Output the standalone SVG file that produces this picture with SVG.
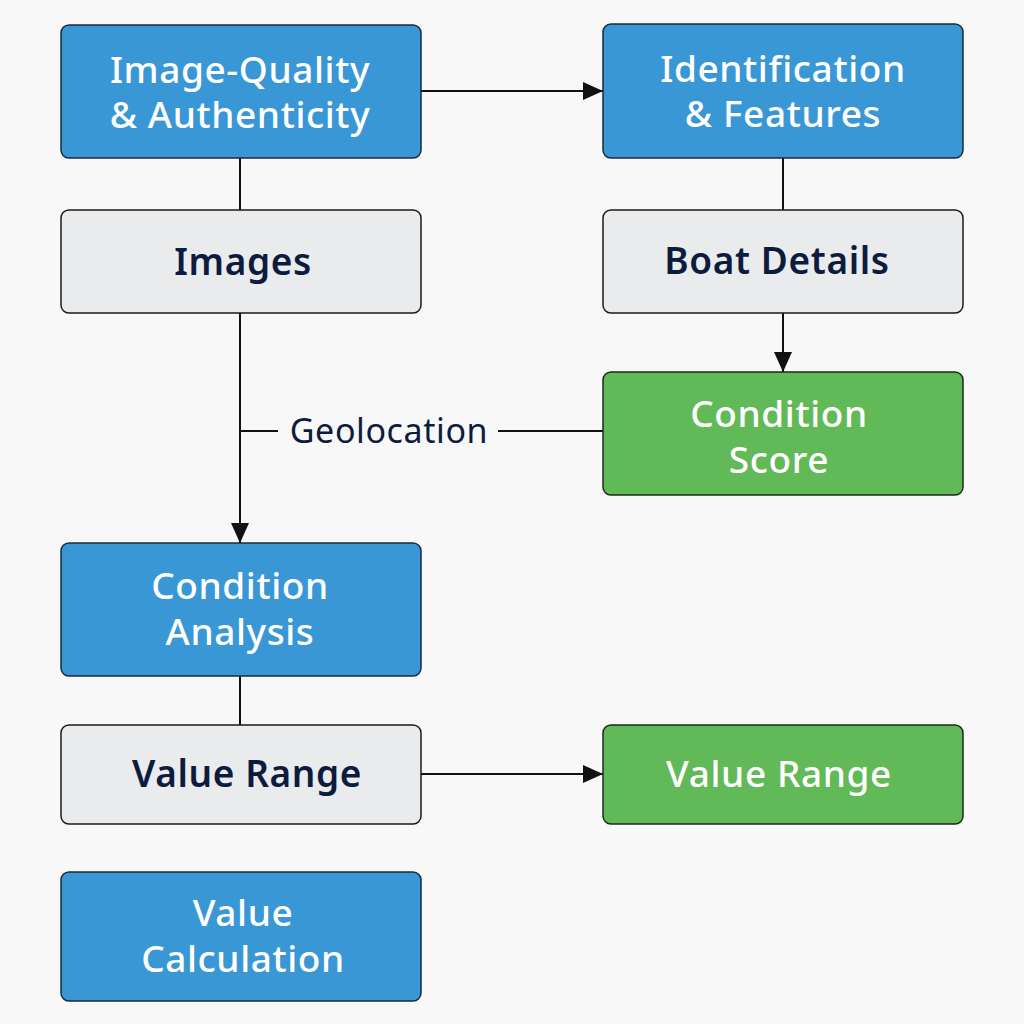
<svg xmlns="http://www.w3.org/2000/svg" width="1024" height="1024" viewBox="0 0 1024 1024">
<style>
.blue{fill:#3a97d6;stroke:#1a2a3a;stroke-width:1.5}
.gray{fill:#e9ebed;stroke:#1a1a1a;stroke-width:1.5}
.green{fill:#62b957;stroke:#1a2a1a;stroke-width:1.5}
.wt{fill:#ffffff;font-family:"Noto Sans","Open Sans",sans-serif;font-size:37px;font-weight:500;text-anchor:middle;letter-spacing:0.6px}
.dt{fill:#0d1b3e;font-family:"Noto Sans","Open Sans",sans-serif;font-size:37px;font-weight:600;text-anchor:middle;letter-spacing:0.6px}
.lbl{fill:#0d1b3e;font-family:"Noto Sans","Open Sans",sans-serif;font-size:34px;font-weight:400;text-anchor:middle;letter-spacing:0.6px}
.ln{stroke:#111;stroke-width:2;fill:none}
</style>
<defs>
<marker id="arrL" viewBox="0 0 20 18" refX="20" refY="9" markerWidth="20" markerHeight="18" markerUnits="userSpaceOnUse" orient="auto">
<path d="M0,0 L20,9 L0,18 z" fill="#111"/>
</marker>
</defs>
<rect width="1024" height="1024" fill="#f8f8f8"/>
<g id="connectors">
<line class="ln" x1="421" y1="91" x2="603" y2="91" marker-end="url(#arrL)"/>
<line class="ln" x1="240" y1="158" x2="240" y2="210"/>
<line class="ln" x1="783" y1="158" x2="783" y2="210"/>
<line class="ln" x1="783" y1="313" x2="783" y2="372" marker-end="url(#arrL)"/>
<line class="ln" x1="240" y1="313" x2="240" y2="543" marker-end="url(#arrL)"/>
<line class="ln" x1="240" y1="431" x2="278" y2="431"/>
<line class="ln" x1="498" y1="431" x2="603" y2="431"/>
<text class="lbl" x="389" y="443">Geolocation</text>
<line class="ln" x1="240" y1="676" x2="240" y2="725"/>
<line class="ln" x1="421" y1="774" x2="603" y2="774" marker-end="url(#arrL)"/>
</g>
<g id="n-quality">
<rect class="blue" x="61" y="25" width="360" height="133" rx="8"/>
<text class="wt" x="240" y="83">Image-Quality</text>
<text class="wt" x="240" y="128">&amp; Authenticity</text>
</g>
<g id="n-ident">
<rect class="blue" x="603" y="24" width="360" height="134" rx="8"/>
<text class="wt" x="783" y="82">Identification</text>
<text class="wt" x="783" y="127">&amp; Features</text>
</g>
<g id="n-images">
<rect class="gray" x="61" y="210" width="360" height="103" rx="8"/>
<text class="dt" x="243" y="275">Images</text>
</g>
<g id="n-boat">
<rect class="gray" x="603" y="210" width="360" height="103" rx="8"/>
<text class="dt" x="777" y="274">Boat Details</text>
</g>
<g id="n-score">
<rect class="green" x="603" y="372" width="360" height="123" rx="8"/>
<text class="wt" x="779" y="427">Condition</text>
<text class="wt" x="779" y="473">Score</text>
</g>
<g id="n-analysis">
<rect class="blue" x="61" y="543" width="360" height="133" rx="8"/>
<text class="wt" x="240" y="599">Condition</text>
<text class="wt" x="240" y="645">Analysis</text>
</g>
<g id="n-range1">
<rect class="gray" x="61" y="725" width="360" height="99" rx="8"/>
<text class="dt" x="247" y="787">Value Range</text>
</g>
<g id="n-range2">
<rect class="green" x="603" y="725" width="360" height="99" rx="8"/>
<text class="wt" x="779" y="787">Value Range</text>
</g>
<g id="n-calc">
<rect class="blue" x="61" y="872" width="360" height="129" rx="8"/>
<text class="wt" x="243" y="926">Value</text>
<text class="wt" x="243" y="972">Calculation</text>
</g>
</svg>
